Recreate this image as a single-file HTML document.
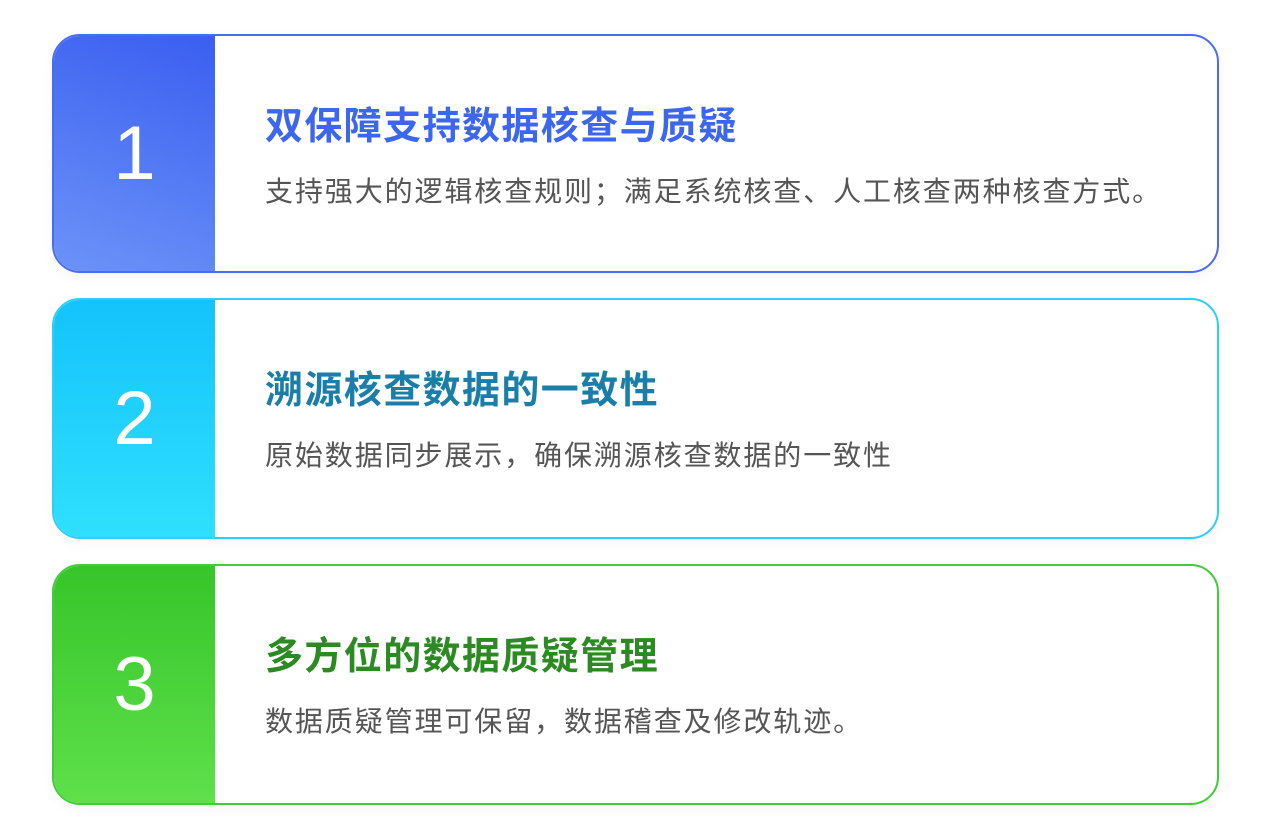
<!DOCTYPE html>
<html><head><meta charset="utf-8"><style>
body{margin:0;width:1272px;height:840px;background:#fff;position:relative;font-family:"Liberation Sans","Noto Sans CJK SC",sans-serif;overflow:hidden}
.card{position:absolute;left:52px;width:1163px;border:2px solid;border-radius:28px;overflow:hidden;background:#fff;box-shadow:0 4px 14px rgba(0,0,0,0.04)}
.num{position:absolute;left:0;top:0;bottom:0;width:161px;color:#fff;font-size:76px;display:flex;align-items:center;justify-content:center;font-family:"Liberation Sans",sans-serif}
.t{position:absolute;left:211px;font-size:38px;font-weight:bold;letter-spacing:1.4px;white-space:nowrap;line-height:1}
.d{position:absolute;left:211px;font-size:28px;letter-spacing:1.9px;color:#555;white-space:nowrap;line-height:1}
</style></head><body>
<div class="card" style="top:34px;height:235px;border-color:#4a6cf0">
<div class="num" style="background:linear-gradient(200deg,#3a5ef0,#6c93f8)">1</div>
<div class="t" style="top:72px;color:#3c66ee">双保障支持数据核查与质疑</div>
<div class="d" style="top:142px">支持强大的逻辑核查规则；满足系统核查、人工核查两种核查方式。</div>
</div>
<div class="card" style="top:298px;height:237px;border-color:#2ccff5">
<div class="num" style="background:linear-gradient(180deg,#14c3fb,#2fe0fd)">2</div>
<div class="t" style="top:72px;color:#1a7fa8">溯源核查数据的一致性</div>
<div class="d" style="top:142px">原始数据同步展示，确保溯源核查数据的一致性</div>
</div>
<div class="card" style="top:564px;height:237px;border-color:#42cc3a">
<div class="num" style="background:linear-gradient(180deg,#36c52a,#5fe04a)">3</div>
<div class="t" style="top:72px;color:#2c8a22">多方位的数据质疑管理</div>
<div class="d" style="top:142px">数据质疑管理可保留，数据稽查及修改轨迹。</div>
</div>
</body></html>
